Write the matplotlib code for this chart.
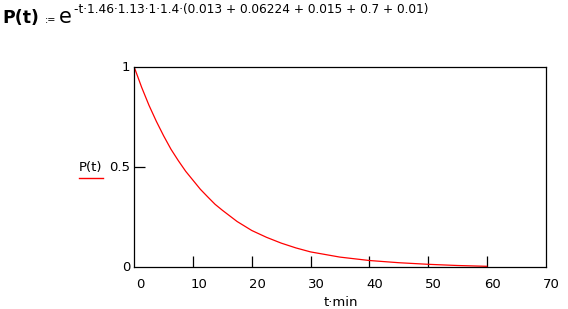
"""Decay curve P(t) with the defining formula on top."""

import matplotlib
matplotlib.use("Agg")
import matplotlib.pyplot as plt

# values
t_min = [0, 1.25, 2.5, 3.75, 5, 6.25, 7.5, 8.75, 10, 11.25, 12.5, 13.75, 15,
         17.5, 20, 22.5, 25, 27.5, 30, 35, 40, 45, 50, 55, 60]
p_t = [1.0, 0.90, 0.81, 0.73, 0.657, 0.59, 0.533, 0.48, 0.435, 0.39, 0.352, 0.315,
       0.285, 0.229, 0.184, 0.15, 0.121, 0.097, 0.077, 0.051, 0.034, 0.023, 0.015,
       0.009, 0.005]

x_ticks = [0, 10, 20, 30, 40, 50, 60, 70]
y_ticks = [0, 0.5, 1]
y_labels = ["0", "0.5", "1"]

formula_lhs = "P(t)"
formula_assign = ":="
formula_base = "e"
formula_exp = "-t·1.46·1.13·1·1.4·(0.013 + 0.06224 + 0.015 + 0.7 + 0.01)"
x_label = "t·min"
legend_label = "P(t)"

W, H = 568, 309
fig = plt.figure(figsize=(W / 100, H / 100), dpi=100)
ax = fig.add_axes([134.3 / W, 1 - 267.3 / H, 411.2 / W, 200 / H])

ax.plot(t_min, p_t, color="red", lw=0.9)
ax.set_xlim(0, 70)
ax.set_ylim(0, 1)

for s in ax.spines.values():
    s.set_linewidth(0.9)
    s.set_color("black")

ax.set_xticks(x_ticks[1:-1])
ax.tick_params(axis="x", direction="in", length=8, width=0.9, labelbottom=False)
ax.set_yticks([0.5])
ax.tick_params(axis="y", direction="in", length=8, width=0.9, labelleft=False)

# tick labels, drawn as text so they can include 0 and 70 without tick marks
for v in x_ticks:
    ax.annotate(str(v), xy=(v, 0), xycoords="data", xytext=(4, -8),
                textcoords="offset points", ha="center", va="top", fontsize=9.5)
for v, lab in zip(y_ticks, y_labels):
    ax.annotate(lab, xy=(0, v), xycoords="data", xytext=(-3, 0),
                textcoords="offset points", ha="right", va="center", fontsize=9.5)

fig.text(341 / W, 1 - 302 / H, x_label, ha="center", va="center", fontsize=9.5)

# legend-style label on the left
fig.text(79 / W, 1 - 167 / H, legend_label, ha="left", va="center", fontsize=9.5)
fig.add_artist(plt.Line2D([79 / W, 103 / W], [1 - 178 / H, 1 - 178 / H],
                          color="red", lw=1.0))

# formula header
fig.text(2 / W, 1 - 18 / H, formula_lhs, ha="left", va="center", fontsize=12.5,
         fontweight="bold")
fig.text(45 / W, 1 - 20 / H, formula_assign, ha="left", va="center", fontsize=7)
fig.text(59 / W, 1 - 17 / H, formula_base, ha="left", va="center", fontsize=15)
fig.text(74 / W, 1 - 9 / H, formula_exp, ha="left", va="center", fontsize=8.7)

fig.savefig("out.png", dpi=100)
